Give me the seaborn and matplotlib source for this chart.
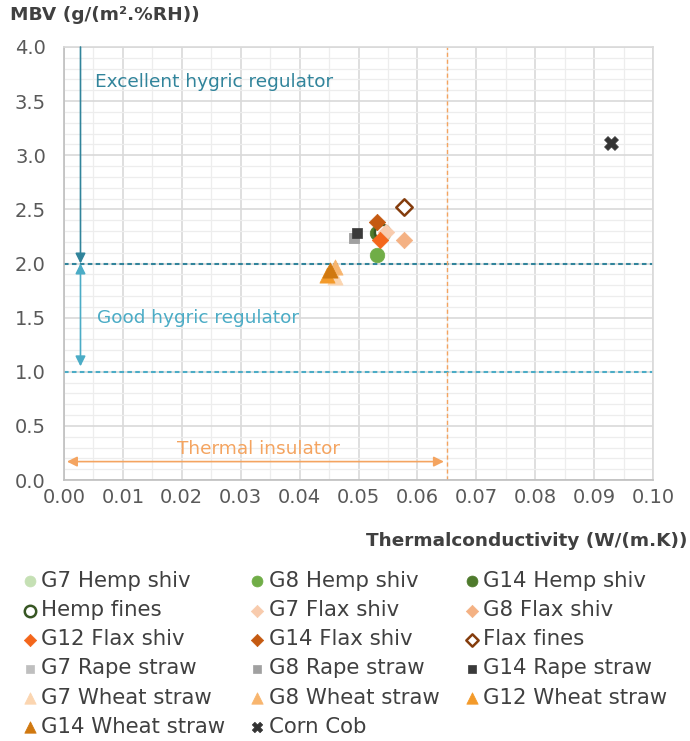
import matplotlib
matplotlib.use("Agg")
import matplotlib.pyplot as plt
from matplotlib.ticker import MultipleLocator, FormatStrFormatter
import seaborn as sns
import pandas as pd

sns.set_style("white")
plt.rcParams["font.family"] = ["DejaVu Sans"]

# Materials: thermal conductivity (W/(m.K)) and moisture buffer value (g/(m².%RH))
materials = [
    "G7 Hemp shiv", "G8 Hemp shiv", "G14 Hemp shiv",
    "Hemp fines", "G7 Flax shiv", "G8 Flax shiv",
    "G12 Flax shiv", "G14 Flax shiv", "Flax fines",
    "G7 Rape straw", "G8 Rape straw", "G14 Rape straw",
    "G7 Wheat straw", "G8 Wheat straw", "G12 Wheat straw",
    "G14 Wheat straw", "Corn Cob",
]
conductivity = [
    0.0542, 0.0531, 0.0531,
    0.0540, 0.0546, 0.0578,
    0.0537, 0.0531, 0.0577,
    0.0493, 0.0493, 0.0497,
    0.0460, 0.0460, 0.0447,
    0.0452, 0.0928,
]
mbv = [
    2.27, 2.08, 2.28,
    2.29, 2.29, 2.22,
    2.22, 2.38, 2.52,
    2.24, 2.24, 2.28,
    1.875, 1.97, 1.89,
    1.94, 3.11,
]

# Marker styling per material
face_colors = [
    "#c5e0b4", "#70ad47", "#4e7a2c",
    "white", "#f8cbad", "#f4b183",
    "#f4661b", "#c55a11", "white",
    "#bfbfbf", "#a0a0a0", "#3a3a3a",
    "#fbd5b0", "#f8b56e", "#f39a2a",
    "#d0780f", "#333333",
]
edge_colors = [
    "#c5e0b4", "#70ad47", "#4e7a2c",
    "#375623", "#f8cbad", "#f4b183",
    "#f4661b", "#c55a11", "#843c0c",
    "#bfbfbf", "#a0a0a0", "#3a3a3a",
    "#fbd5b0", "#f8b56e", "#f39a2a",
    "#d0780f", "#333333",
]
marker_shapes = [
    "o", "o", "o",
    "o", "D", "D",
    "D", "D", "D",
    "s", "s", "s",
    "^", "^", "^",
    "^", "X",
]
marker_sizes = [
    110, 110, 110,
    120, 70, 70,
    70, 70, 70,
    55, 55, 55,
    120, 120, 120,
    120, 100,
]

df = pd.DataFrame({"material": materials, "k": conductivity, "mbv": mbv})

fig = plt.figure(figsize=(6.9, 7.41), dpi=100)
ax = fig.add_axes([64 / 690, 1 - 480 / 741, (653 - 64) / 690, (480 - 47) / 741])

ax.set_xlim(0, 0.1)
ax.set_ylim(0, 4)
ax.xaxis.set_major_locator(MultipleLocator(0.01))
ax.xaxis.set_minor_locator(MultipleLocator(0.005))
ax.yaxis.set_major_locator(MultipleLocator(0.5))
ax.yaxis.set_minor_locator(MultipleLocator(0.1))
ax.xaxis.set_major_formatter(FormatStrFormatter("%.2f"))
ax.yaxis.set_major_formatter(FormatStrFormatter("%.1f"))
ax.grid(which="major", color="#d9d9d9", lw=1.2, zorder=0)
ax.grid(which="minor", color="#ededed", lw=0.9, zorder=0)
ax.set_axisbelow(True)
ax.tick_params(which="both", length=0, labelsize=14, labelcolor="#595959")
ax.tick_params(axis="x", pad=6)
ax.tick_params(axis="y", pad=13)
for side in ["left", "bottom"]:
    ax.spines[side].set_color("#bfbfbf")
    ax.spines[side].set_linewidth(1.2)
for side in ["top", "right"]:
    ax.spines[side].set_color("#d9d9d9")
    ax.spines[side].set_linewidth(1.2)

# thresholds
ax.axhline(2.0, color="#31849b", ls=(0, (2.2, 1.6)), lw=1.5, zorder=1)
ax.axhline(1.0, color="#4bacc6", ls=(0, (2.2, 1.6)), lw=1.5, zorder=1)
ax.axvline(0.065, color="#f4a460", ls=(0, (3, 2)), lw=1.0, zorder=1)

ax.annotate("", xy=(0.0028, 2.0), xytext=(0.0028, 4.0),
            arrowprops=dict(arrowstyle="-|>,head_length=0.6,head_width=0.3",
                            color="#31849b", lw=1.2, shrinkA=0, shrinkB=0))
ax.annotate("", xy=(0.0028, 1.05), xytext=(0.0028, 2.0),
            arrowprops=dict(arrowstyle="<|-|>,head_length=0.6,head_width=0.3",
                            color="#4bacc6", lw=1.2, shrinkA=0, shrinkB=0))
ax.annotate("", xy=(0.0645, 0.17), xytext=(0.0005, 0.17),
            arrowprops=dict(arrowstyle="<|-|>,head_length=0.6,head_width=0.3",
                            color="#f4a460", lw=1.2, shrinkA=0, shrinkB=0))
ax.text(0.0053, 3.68, "Excellent hygric regulator", color="#31849b",
        fontsize=13.3, va="center", ha="left")
ax.text(0.0056, 1.50, "Good hygric regulator", color="#4bacc6",
        fontsize=13.3, va="center", ha="left")
ax.text(0.0330, 0.29, "Thermal insulator", color="#f4a460",
        fontsize=13.3, va="center", ha="center")

for i, name in enumerate(materials):
    sns.scatterplot(data=df[df["material"] == name], x="k", y="mbv", ax=ax,
                    marker=marker_shapes[i], s=marker_sizes[i],
                    color=face_colors[i], edgecolor=edge_colors[i],
                    linewidth=1.8 if face_colors[i] == "white" else 0.5,
                    label=name, zorder=3 + i, clip_on=False)

ax.set_xlabel("")
ax.set_ylabel("")
handles, labels = ax.get_legend_handles_labels()
ax.get_legend().remove()

fig.text(10 / 690, 1 - 15 / 741, "MBV (g/(m².%RH))", fontsize=13.3,
         fontweight="bold", color="#404040", ha="left", va="center")
fig.text(687 / 690, 1 - 541 / 741, "Thermalconductivity (W/(m.K))", fontsize=13.3,
         fontweight="bold", color="#404040", ha="right", va="center")

# legend in row-major order across three columns
order = [0, 3, 6, 9, 12, 15, 1, 4, 7, 10, 13, 16, 2, 5, 8, 11, 14]
leg = fig.legend([handles[i] for i in order], [labels[i] for i in order],
                 ncol=3, loc="upper left", bbox_to_anchor=(21 / 690, 1 - 571 / 741),
                 frameon=False, fontsize=15.3, handletextpad=0.15,
                 columnspacing=1.1, labelspacing=0.43, handlelength=0.8,
                 markerscale=0.75, borderaxespad=0, borderpad=0)
for t in leg.get_texts():
    t.set_color("#404040")

fig.savefig("out.png", dpi=100)
